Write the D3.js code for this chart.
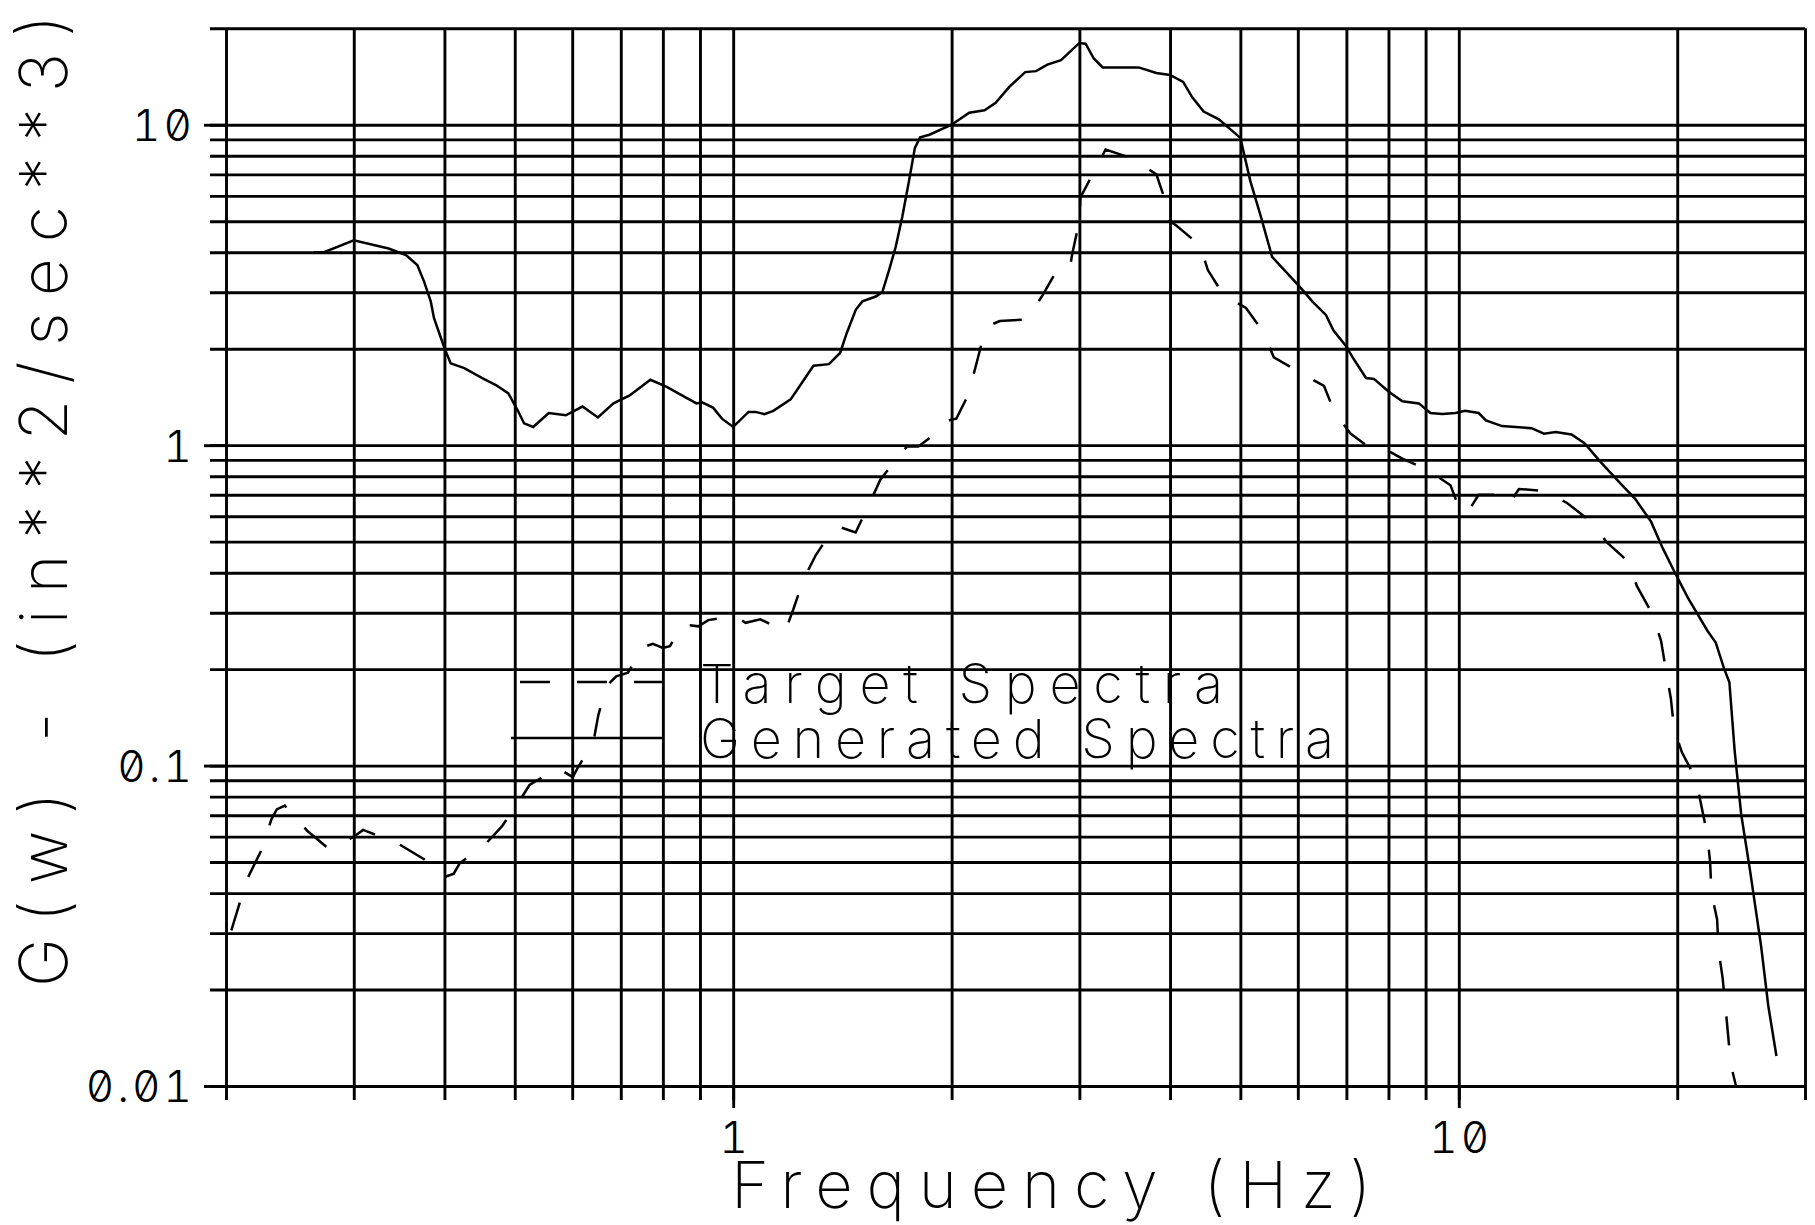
<!DOCTYPE html>
<html>
<head>
<meta charset="utf-8">
<script src="https://cdn.jsdelivr.net/npm/d3@7"></script>
<style>
  html, body { margin: 0; padding: 0; background: #fff; }
  svg { display: block; }
  .lbl { font-family: Inter, "DejaVu Sans", sans-serif; font-weight: 300; fill: #000; }
  .big { font-weight: 250; }
  .tick text { font-feature-settings: "zero" 1, "tnum" 1; }
</style>
</head>
<body>
<svg id="chart" width="1815" height="1225"></svg>
<script>
// Generated spectrum (solid): frequency in Hz, G(w) in in^2/sec^3
const freqGenerated = [0.264, 0.273, 0.30, 0.335, 0.354, 0.367, 0.375, 0.383, 0.387, 0.40, 0.408, 0.426,
  0.451, 0.471, 0.49, 0.505, 0.515, 0.53, 0.557, 0.588, 0.62, 0.651, 0.684, 0.72, 0.769, 0.81, 0.85,
  0.89, 0.906, 0.938, 0.965, 1.0, 1.05, 1.073, 1.104, 1.136, 1.20, 1.228, 1.29, 1.355, 1.404, 1.434,
  1.476, 1.507, 1.572, 1.605, 1.64, 1.675, 1.71, 1.747, 1.78, 1.81, 1.864, 2.0, 2.115, 2.22, 2.30,
  2.40, 2.526, 2.615, 2.71, 2.83, 3.0, 3.06, 3.14, 3.23, 3.62, 3.83, 4.0, 4.17, 4.29, 4.45, 4.67, 5.0,
  5.16, 5.34, 5.53, 5.69, 6.03, 6.29, 6.56, 6.72, 6.99, 7.14, 7.45, 7.64, 8.0, 8.36, 8.81, 9.14, 9.49,
  9.90, 10.2, 10.65, 10.9, 11.47, 12.6, 13.1, 13.6, 14.3, 14.9, 15.7, 16.7, 17.5, 18.4, 19.1, 19.8,
  20.7, 22.0, 22.6, 23.2, 23.6, 24.0, 24.5, 25.2, 26.1, 26.7, 27.4];
const psdGenerated = [4.0, 4.0, 4.36, 4.11, 3.92, 3.65, 3.24, 2.81, 2.49, 2.01, 1.80, 1.74,
  1.62, 1.54, 1.45, 1.28, 1.17, 1.14, 1.26, 1.24, 1.32, 1.22, 1.35, 1.43, 1.60, 1.52, 1.43,
  1.35, 1.36, 1.31, 1.21, 1.14, 1.27, 1.27, 1.25, 1.28, 1.39, 1.50, 1.77, 1.79, 1.94, 2.24,
  2.65, 2.81, 2.91, 3.0, 3.52, 4.16, 5.15, 6.68, 8.47, 9.14, 9.31, 10.0, 10.9, 11.1, 11.7,
  13.1, 14.6, 14.7, 15.4, 15.9, 18.0, 17.9, 16.1, 15.1, 15.1, 14.5, 14.3, 13.6, 12.2, 11.0, 10.4, 9.1,
  6.68, 5.14, 3.87, 3.61, 3.13, 2.8, 2.55, 2.28, 2.04, 1.88, 1.62, 1.61, 1.47, 1.37, 1.35, 1.26, 1.25,
  1.26, 1.28, 1.26, 1.195, 1.147, 1.13, 1.086, 1.10, 1.08, 1.014, 0.884, 0.76, 0.68, 0.578, 0.477, 0.405,
  0.333, 0.264, 0.242, 0.201, 0.182, 0.111, 0.0705, 0.047, 0.0273, 0.0178, 0.0124];

// Target spectrum (dashed)
const freqTarget = [0.2034, 0.209, 0.215, 0.224, 0.231, 0.235, 0.241, 0.259, 0.278, 0.30, 0.309, 0.316,
  0.347, 0.375, 0.40, 0.412, 0.42, 0.455, 0.48, 0.505, 0.524, 0.573, 0.601, 0.61, 0.642, 0.652, 0.669,
  0.69, 0.716, 0.751, 0.775, 0.80, 0.818, 0.853, 0.895, 0.924, 1.006, 1.04, 1.09, 1.18, 1.21, 1.25,
  1.30, 1.365, 1.41, 1.475, 1.55, 1.595, 1.687, 1.736, 1.80, 1.90, 1.96, 2.03, 2.11, 2.16, 2.21, 2.24,
  2.33, 2.54, 2.67, 2.79, 2.91, 2.93, 3.0, 3.01, 3.12, 3.26, 3.55, 3.83, 3.94, 3.99, 4.08, 4.40, 4.51,
  4.74, 5.09, 5.37, 5.56, 6.03, 6.52, 6.74, 7.09, 7.64, 8.06, 8.36, 9.05, 9.74, 10.05, 10.3, 10.65,
  11.47, 11.6, 11.8, 12.1, 13.1, 14.1, 15.2, 16.0, 17.1, 17.6, 18.5, 19.0, 19.3, 19.6, 19.8, 20.3,
  21.2, 21.6, 22.0, 22.2, 22.3, 22.7, 22.8, 23.1, 23.3, 23.5, 23.7, 24.1];
const psdTarget = [0.0306, 0.0374, 0.0453, 0.0547, 0.068, 0.073, 0.075, 0.0625, 0.0547, 0.060, 0.063, 0.0618,
  0.0567, 0.051, 0.0449, 0.046, 0.0496, 0.0567, 0.0646, 0.0762, 0.087, 0.0983, 0.092, 0.098, 0.119, 0.144, 0.177,
  0.19, 0.195, 0.234, 0.24, 0.233, 0.236, 0.2756, 0.272, 0.2845, 0.293, 0.279, 0.286, 0.263, 0.307, 0.381,
  0.454, 0.536, 0.553, 0.534, 0.676, 0.78, 0.92, 0.99, 0.99, 1.087, 1.19, 1.21, 1.44, 1.77, 2.16, 2.35,
  2.44, 2.47, 2.94, 3.50, 3.54, 3.91, 5.02, 5.93, 6.92, 8.37, 7.85, 7.0, 5.79, 5.02, 4.85, 4.2, 3.52,
  2.94, 2.68, 2.27, 1.88, 1.69, 1.53, 1.27, 1.087, 0.96, 0.95, 0.908, 0.837, 0.75, 0.62, 0.62, 0.70,
  0.70, 0.66, 0.67, 0.73, 0.72, 0.66, 0.578, 0.497, 0.434, 0.363, 0.296, 0.245, 0.198, 0.162, 0.13, 0.11,
  0.0912, 0.0746, 0.061, 0.0499, 0.0398, 0.0331, 0.0266, 0.0217, 0.0178, 0.0145, 0.0117, 0.010];

// Grid and tick values
const yGridValues = [0.01, 0.02, 0.03, 0.04, 0.05, 0.06, 0.07, 0.08, 0.09,
  0.1, 0.2, 0.3, 0.4, 0.5, 0.6, 0.7, 0.8, 0.9, 1, 2, 3, 4, 5, 6, 7, 8, 9, 10, 20];
const xGridValues = [0.2, 0.3, 0.4, 0.5, 0.6, 0.7, 0.8, 0.9, 1, 2, 3, 4, 5, 6, 7, 8, 9, 10, 20, 30];
const yTickValues = [0.01, 0.1, 1, 10];
const yTickLabels = ["0.01", "0.1", "1", "10"];
const xTickValues = [1, 10];
const xTickLabels = ["1", "10"];

const legendLabels = ["Target Spectra", "Generated Spectra"];
const xTitle = "Frequency (Hz)";
const yTitle = "G(w) - (in**2/sec**3)";

// Layout
const L = 226, R = 1805, T = 28.3, B = 1086;
const GRID_W = 2.9, CURVE_W = 2.5;

const svg = d3.select("#chart");
svg.append("rect").attr("width", 1815).attr("height", 1225).attr("fill", "#fff");

const x = d3.scaleLog().domain([0.2, 30]).range([L, R]);
const y = d3.scaleLog().domain([0.01, 20]).range([B, T]);

function styleAxis(g) {
  g.select(".domain").remove();
  g.selectAll(".tick line").attr("stroke", "#000").attr("stroke-width", GRID_W);
}

// Horizontal grid (extends a little left of the frame)
const hgLeft = L - 16;
svg.append("g")
  .attr("transform", `translate(${hgLeft},0)`)
  .call(d3.axisLeft(y).tickValues(yGridValues).tickSize(-(R - hgLeft)).tickFormat(""))
  .call(styleAxis);

// Vertical grid (extends a little below the frame)
const vgBottom = B + 14;
svg.append("g")
  .attr("transform", `translate(0,${vgBottom})`)
  .call(d3.axisBottom(x).tickValues(xGridValues).tickSize(vgBottom - T).tickFormat(""))
  .call(g => g.selectAll(".tick line").attr("y2", -(vgBottom - T)))
  .call(styleAxis);

// Major y ticks with labels
const yMajX = L - 22;
svg.append("g")
  .attr("transform", `translate(${yMajX},0)`)
  .call(d3.axisLeft(y).tickValues(yTickValues).tickSize(-(L - yMajX)).tickPadding(12)
    .tickFormat((d, i) => yTickLabels[i]))
  .call(styleAxis)
  .call(g => g.selectAll(".tick text")
    .attr("class", "lbl")
    .attr("font-size", 44)
    .attr("letter-spacing", 3)
    .attr("dx", 3)
    .attr("dy", "0.36em"));

// Major x ticks with labels
const xMajY = B + 22;
svg.append("g")
  .attr("transform", `translate(0,${xMajY})`)
  .call(d3.axisBottom(x).tickValues(xTickValues).tickSize(-(xMajY - B)).tickPadding(13)
    .tickFormat((d, i) => xTickLabels[i]))
  .call(styleAxis)
  .call(g => g.selectAll(".tick text")
    .attr("class", "lbl")
    .attr("font-size", 44)
    .attr("letter-spacing", 3)
    .attr("dx", 1.5)
    .attr("dy", "0.72em"));

// Curves
const plot = svg.append("g");
const line = d3.line().x(d => x(d[0])).y(d => y(d[1]));

plot.append("path")
  .datum(freqTarget.map((f, i) => [f, psdTarget[i]]))
  .attr("d", line)
  .attr("fill", "none")
  .attr("stroke", "#000")
  .attr("stroke-width", CURVE_W)
  .attr("stroke-dasharray", "29 27");

plot.append("path")
  .datum(freqGenerated.map((f, i) => [f, psdGenerated[i]]))
  .attr("d", line)
  .attr("fill", "none")
  .attr("stroke", "#000")
  .attr("stroke-width", CURVE_W);

// Legend
const legend = svg.append("g");
const legendRows = [
  { label: legendLabels[0], dash: "30 27", lineY: 682, x1: 520, textY: 703, len: 523 },
  { label: legendLabels[1], dash: null, lineY: 738, x1: 511, textY: 758, len: 634 }
];
legendRows.forEach(r => {
  legend.append("line")
    .attr("x1", r.x1).attr("x2", 664)
    .attr("y1", r.lineY).attr("y2", r.lineY)
    .attr("stroke", "#000").attr("stroke-width", CURVE_W)
    .attr("stroke-dasharray", r.dash);
  legend.append("text")
    .attr("class", "lbl big")
    .attr("x", 700).attr("y", r.textY)
    .attr("font-size", 54)
    .attr("textLength", r.len)
    .attr("lengthAdjust", "spacing")
    .text(r.label);
});

// Axis titles
svg.append("text")
  .attr("class", "lbl big")
  .attr("x", 731).attr("y", 1208)
  .attr("font-size", 65)
  .attr("textLength", 640)
  .attr("lengthAdjust", "spacing")
  .text(xTitle);

svg.append("text")
  .attr("class", "lbl big")
  .attr("transform", "translate(67,987) rotate(-90)")
  .attr("font-size", 66)
  .attr("textLength", 972)
  .attr("lengthAdjust", "spacing")
  .text(yTitle);
</script>
</body>
</html>
